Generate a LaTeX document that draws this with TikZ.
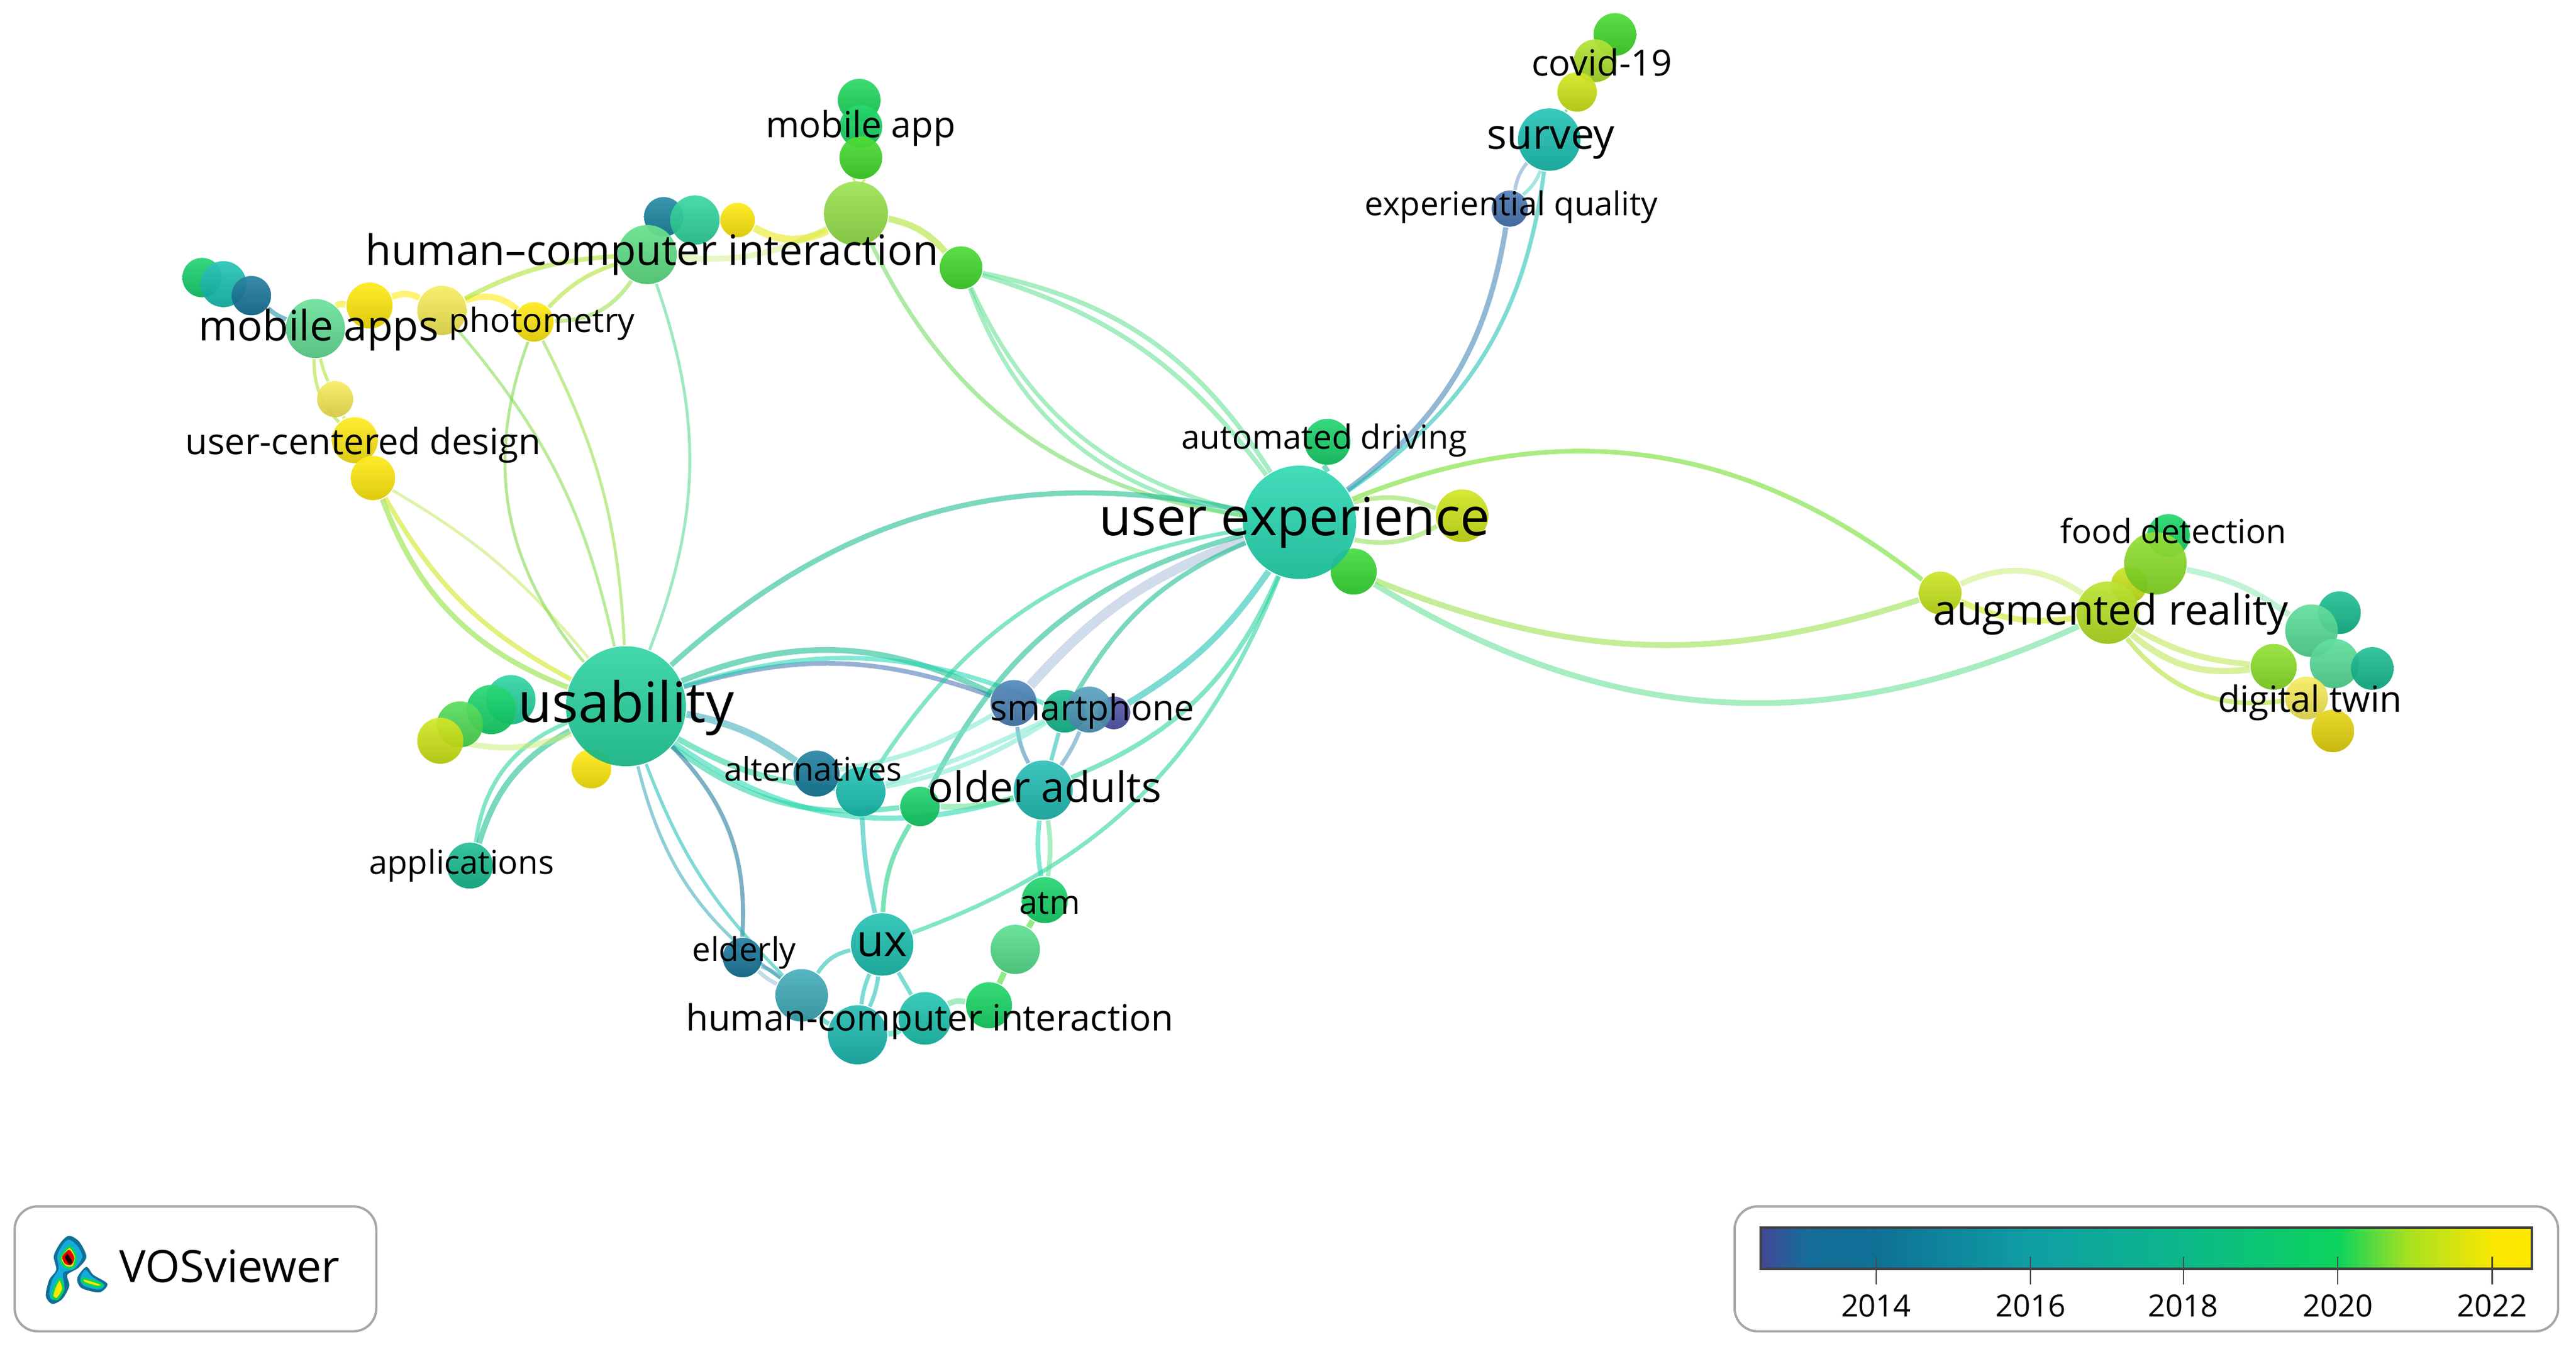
\documentclass[tikz,border=0pt]{standalone}
\usepackage{fontspec}
\setmainfont{Open Sans}
\usetikzlibrary{positioning,backgrounds}

\definecolor{cBlue}{HTML}{3F6FB0}
\definecolor{cSteel}{HTML}{4A98B8}
\definecolor{cPurple}{HTML}{4A4FA8}
\definecolor{cNavy}{HTML}{0F7096}
\definecolor{cTeal}{HTML}{10BDAF}
\definecolor{cTurq}{HTML}{1CD6AE}
\definecolor{cMint}{HTML}{1CD09A}
\definecolor{cJade}{HTML}{0CB88A}
\definecolor{cGreen}{HTML}{0CD45C}
\definecolor{cLeaf}{HTML}{38D820}
\definecolor{cSoft}{HTML}{5CDE90}
\definecolor{cLime}{HTML}{A8E020}
\definecolor{cYlime}{HTML}{CCE40C}
\definecolor{cYellow}{HTML}{FFE800}
\definecolor{cPale}{HTML}{F6EA50}

\pgfdeclarehorizontalshading{yearscale}{100bp}{
  color(0bp)=(cPurple!90!black); color(25bp)=(cPurple!90!black);
  color(28bp)=(cNavy!90!cPurple); color(32.5bp)=(cNavy); color(42.5bp)=(cNavy!40!cTeal);
  color(52.5bp)=(cJade); color(62.5bp)=(cGreen); color(67bp)=(cLime);
  color(72.5bp)=(cYellow!95!cLime); color(75bp)=(cYellow); color(100bp)=(cYellow)}

\begin{document}
\begin{tikzpicture}[
    x=0.01cm,y=-0.01cm,
    bub/.style n args={2}{circle,inner sep=0pt,minimum size=#1*0.2mm,opacity=.94,
        top color=#2!88!white,middle color=#2,bottom color=#2!86!black},
    lab/.style={font=\fontsize{#1pt}{#1pt}\selectfont,inner sep=0pt,text=black},
    lnk/.style={line width=#1pt,opacity=.55},
    lnk/.default=0.55,
    panel/.style={rectangle,draw=black!35,line width=0.4pt,rounded corners=0.14cm,
        minimum height=0.76cm}
]
    \useasboundingbox (0,0) rectangle (1568,824.3);

    % Upper left cluster
    \node[bub={12}{cGreen!80!cJade}] (m1) at (123,169) {};
    \node[bub={14}{cTeal}] (m2) at (136,173) {};
    \node[bub={12}{cNavy}] (m3) at (153,180) {};
    \node[bub={14}{cYellow}] (m4) at (225,186) {};
    \node[bub={18}{cSoft}] (mapps) at (192,200) {};
    \node[bub={15}{cPale}] (m5) at (269,189) {};
    \node[bub={12}{cYellow}] (photo) at (325,196) {};
    \node[bub={11}{cPale}] (d1) at (204,243) {};
    \node[bub={14}{cYellow!90!cPale}] (d2) at (216,268) {};
    \node[bub={13.5}{cYellow}] (d3) at (227,291) {};
    \node[bub={12}{cNavy!80!cTeal}] (h1) at (404,132) {};
    \node[bub={18}{cSoft!85!cLeaf}] (hciup) at (394,155) {};
    \node[bub={15}{cMint!85!cSoft}] (h2) at (423,134) {};
    \node[bub={10.5}{cYellow}] (h3) at (449,134) {};
    \node[bub={19.5}{cLime!70!cSoft}] (hub) at (521,130) {};
    \node[bub={13}{cGreen!85!cLeaf}] (app1) at (523,61) {};
    \node[bub={13}{cGreen}] (app2) at (524,77) {};
    \node[bub={13}{cLeaf}] (app3) at (524,96) {};
    \node[bub={13}{cLeaf}] (h4) at (585,163) {};

    % Top right cluster
    \node[bub={13}{cLeaf}] (c1) at (983,21) {};
    \node[bub={13}{cLime}] (c2) at (971,37) {};
    \node[bub={12}{cYlime}] (c3) at (960,56) {};
    \node[bub={19}{cTeal}] (survey) at (943,85) {};
    \node[bub={11}{cBlue}] (qual) at (919,127) {};

    % Main hubs
    \node[bub={14}{cGreen!85!cJade}] (auto) at (808,269) {};
    \node[bub={16}{cYlime}] (ue1) at (890,314) {};
    \node[bub={14}{cLeaf!80!cGreen}] (ue2) at (824,348) {};
    \node[bub={34.5}{cTurq}] (ue) at (791,318) {};
    \node[bub={15}{cMint}] (u1) at (311,426) {};
    \node[bub={15}{cGreen!85!cMint}] (u2) at (299,432) {};
    \node[bub={14}{cLeaf!60!cSoft}] (u3) at (280,441) {};
    \node[bub={14}{cYlime}] (u4) at (268,451) {};
    \node[bub={12}{cYellow}] (u5) at (360,468) {};
    \node[bub={36.5}{cMint}] (usab) at (381,430) {};
    \node[bub={14}{cJade}] (appl) at (286,527) {};

    % Lower middle cluster
    \node[bub={14}{cNavy!90!cTeal}] (alt) at (497,471) {};
    \node[bub={15}{cTeal}] (a2) at (524,482) {};
    \node[bub={12}{cGreen!85!cJade}] (a3) at (560,491) {};
    \node[bub={14}{cBlue!70!cSteel}] (s1) at (617,428) {};
    \node[bub={13}{cJade}] (s2) at (648,433) {};
    \node[bub={10}{cPurple}] (s4) at (678,434) {};
    \node[bub={14}{cSteel}] (s3) at (663,432) {};
    \node[bub={18}{cTeal!90!cSteel}] (older) at (635,481) {};
    \node[bub={14}{cGreen!90!cJade}] (atm) at (636,548) {};
    \node[bub={15}{cSoft!80!cGreen}] (l1) at (618,578) {};
    \node[bub={14}{cGreen}] (l2) at (602,612) {};
    \node[bub={16}{cTeal!80!cMint}] (l3) at (563,620) {};
    \node[bub={18}{cTeal!90!cNavy}] (hcilow) at (522,630) {};
    \node[bub={16}{cSteel!60!cTeal}] (l4) at (488,606) {};
    \node[bub={12}{cNavy}] (elder) at (452,583) {};
    \node[bub={19}{cTeal!90!cJade}] (ux) at (537,575) {};

    % Right cluster
    \node[bub={13}{cYlime!80!cLime}] (r1) at (1181,361) {};
    \node[bub={11}{cYlime!80!cLime}] (r2) at (1296,356) {};
    \node[bub={13}{cGreen}] (r4) at (1320,326) {};
    \node[bub={19}{cLime!70!cLeaf}] (r3) at (1312,343) {};
    \node[bub={19}{cLime!70!cYlime}] (ar) at (1283,373) {};
    \node[bub={13}{cJade}] (r5) at (1424,373) {};
    \node[bub={16}{cSoft!80!cMint}] (r6) at (1407,384) {};
    \node[bub={15}{cSoft!80!cMint}] (r7) at (1421,404) {};
    \node[bub={13}{cJade}] (r8) at (1444,407) {};
    \node[bub={14}{cLime!70!cLeaf}] (r9) at (1384,406) {};
    \node[bub={13}{cPale}] (r10) at (1404,425) {};
    \node[bub={13}{cYellow!90!black}] (r11) at (1420,445) {};

    % Links
    \begin{scope}[on background layer]
    % upper left
    \draw[lnk=0.8,cNavy!70!cTeal] (mapps) to[bend left=10] (m3);
    \draw[lnk=1.1,cYellow!85!cLime] (mapps) to[bend left=25] (m4);
    \draw[lnk=1.1,cYellow] (m4) to[bend left=25] (m5);
    \draw[lnk=1.1,cYellow] (m5) to[bend left=30] (photo);
    \draw[lnk,cLime] (mapps) to[bend right=6] (d1);
    \draw[lnk,cLime] (mapps) to[bend right=22] (d2);
    \draw[lnk,cYlime] (d1) to (d2);
    \draw[lnk=0.8,cLime] (d2) to[bend left=10] (d3);
    \draw[lnk=0.8,cLime] (m5) to[bend left=12] (hciup);
    \draw[lnk=0.7,cLime] (photo) to[bend left=14] (hciup);
    \draw[lnk=0.7,cLime!70!cSoft] (photo) to[bend right=28] (hciup);
    \draw[lnk=1,cLime!50!white] (hciup) to[bend right=16] (hub);
    \draw[lnk=1.3,cYellow!70!cLime] (h3) to[bend right=28] (hub);
    \draw[lnk=1.1,cLime] (hub) to[bend left=18] (h4);
    \draw[lnk=0.8,cLime] (hub) to[bend left=10] (app3);
    \draw[lnk=0.8,cLime] (hub) to[bend right=10] (app3);
    % usability fan
    \draw[lnk=0.9,cLime!80!cGreen] (d3) to[bend right=24] (usab);
    \draw[lnk=0.8,cYlime] (d3) to[bend right=16] (usab);
    \draw[lnk=0.5,cLime!70!white] (d3) to[bend left=10] (usab);
    \draw[lnk=0.5,cLime!70!cJade] (photo) to[bend right=30] (usab);
    \draw[lnk=0.5,cLime!80!cMint] (photo) to[bend left=12] (usab);
    \draw[lnk=0.5,cLime!70!cMint] (m5) to[bend left=14] (usab);
    \draw[lnk=0.5,cSoft!80!cJade] (hciup) to[bend left=20] (usab);
    \draw[lnk=0.7,cLime!55!cMint] (hub) to[bend right=28] (ue);
    \draw[lnk=0.7,cSoft] (h4) to[bend right=30] (ue);
    \draw[lnk=0.7,cSoft] (h4) to[bend right=26] (ue);
    \draw[lnk=0.8,cSoft] (h4) to[bend left=18] (ue);
    \draw[lnk=0.8,cSoft] (h4) to[bend left=23] (ue);
    \draw[lnk=0.9,cJade] (usab) to[bend left=27] (ue);
    % usability to lower middle
    \draw[lnk=1,cJade] (usab) to[bend left=24] (s1);
    \draw[lnk=0.8,cBlue] (usab) to[bend left=18] (s1);
    \draw[lnk=0.8,cTurq] (usab) to[bend left=20] (s2);
    \draw[lnk=1.2,cSteel!60!cTeal] (usab) to[bend left=12] (alt);
    \draw[lnk=1,cMint] (usab) to[bend right=12] (a2);
    \draw[lnk=0.9,cMint] (usab) to[bend right=22] (a3);
    \draw[lnk=0.9,cTurq] (usab) to[bend right=26] (older);
    \draw[lnk=0.7,cNavy] (usab) to[bend left=24] (elder);
    \draw[lnk=0.55,cTeal] (usab) to[bend right=12] (l4);
    \draw[lnk=0.55,cSteel!60!cTeal] (usab) to[bend right=20] (l4);
    \draw[lnk=1,cJade] (usab) to[bend right=22] (appl);
    \draw[lnk=0.7,cMint] (usab) to[bend right=30] (appl);
    \draw[lnk=1,cLime!60!white] (usab) to[bend left=16] (u4);
    % user experience fan
    \draw[lnk=1.7,cBlue!45!white] (ue) to[bend right=14] (s1);
    \draw[lnk=0.8,cJade] (ue) to[bend right=18] (s2);
    \draw[lnk=1.1,cTeal] (ue) to[bend left=12] (s4);
    \draw[lnk=0.8,cMint] (ue) to[bend left=22] (older);
    \draw[lnk=0.7,cMint] (ue) to[bend right=24] (a2);
    \draw[lnk=0.9,cJade] (ue) to[bend right=24] (a3);
    \draw[lnk=0.7,cMint] (ue) to[bend left=24] (ux);
    \draw[lnk=0.9,cJade] (ue) to[bend right=10] (auto);
    \draw[lnk=0.9,cBlue!80!cTeal] (ue) to[bend right=22] (qual);
    \draw[lnk=0.7,cTeal] (ue) to[bend right=24] (survey);
    \draw[lnk=0.6,cBlue!70!white] (qual) to[bend left=14] (survey);
    \draw[lnk=0.6,cTeal!70!white] (qual) to[bend right=14] (survey);
    \draw[lnk,cGreen] (survey) to (c3);
    \draw[lnk=0.8,cLime!60!cSoft] (ue) to[bend left=18] (ue1);
    \draw[lnk=0.8,cLime!60!cSoft] (ue) to[bend right=20] (ue1);
    \draw[lnk=0.8,cLeaf!70!cYlime] (ue) to[bend left=30] (r1);
    \draw[lnk=1,cSoft] (ue2) to[bend right=28] (ar);
    \draw[lnk=1,cLime!70!cSoft] (ue2) to[bend right=20] (r1);
    % lower middle
    \draw[lnk=0.8,cTeal] (a2) to[bend right=5] (ux);
    \draw[lnk=0.8,cGreen!60!cTeal] (a3) to[bend right=14] (ux);
    \draw[lnk=0.8,cTurq] (older) to[bend right=8] (atm);
    \draw[lnk=0.8,cSoft] (older) to[bend left=8] (atm);
    \draw[lnk=0.7,cBlue!70!cTeal] (s1) to[bend right=10] (older);
    \draw[lnk=0.7,cTeal] (s2) to (older);
    \draw[lnk=0.7,cSteel] (s3) to[bend left=6] (older);
    \draw[lnk=0.8,cTurq!60!white] (s2) to[bend left=10] (a2);
    \draw[lnk=0.8,cTurq!60!white] (s2) to[bend left=4] (a2);
    \draw[lnk=0.8,cTurq!60!white] (s1) to[bend left=10] (alt);
    \draw[lnk=1,cSoft] (older) to[bend left=8] (a3);
    \draw[lnk=0.7,cSteel] (elder) to[bend left=8] (l4);
    \draw[lnk=0.7,cSteel!60!white] (elder) to[bend right=8] (l4);
    \draw[lnk=0.7,cTeal] (l4) to[bend left=22] (ux);
    \draw[lnk=0.8,cTeal] (l4) to[bend right=14] (hcilow);
    \draw[lnk=0.7,cTeal] (ux) to[bend right=8] (hcilow);
    \draw[lnk=0.7,cTeal] (ux) to[bend left=8] (hcilow);
    \draw[lnk=0.7,cTeal] (ux) to (l3);
    \draw[lnk=1,cTurq] (hcilow) to[bend right=12] (l3);
    \draw[lnk=1,cSoft] (l3) to[bend left=20] (l2);
    \draw[lnk=1,cLeaf] (l2) to (l1);
    \draw[lnk=1,cLeaf] (l1) to (atm);
    % right
    \draw[lnk=1,cLime!60!white] (r1) to[bend left=30] (ar);
    \draw[lnk=1,cYlime] (r1) to[bend right=16] (ar);
    \draw[lnk=1,cLime!80!white] (ar) to[bend right=12] (r9);
    \draw[lnk=1.1,cLime!80!white] (ar) to[bend right=24] (r9);
    \draw[lnk=0.8,cLime] (ar) to[bend right=30] (r10);
    \draw[lnk=1,cSoft!70!white] (r3) to[bend left=12] (r6);
    \end{scope}

    % Labels
    \node[lab=9.65] (tUsab) at (381,431) {usability};
    \node[lab=9.1] (tUe) at (788,318) {user experience};
    \node[lab=7.25] (tOlder) at (636,479) {older adults};
    \node[lab=7.25] (tMapps) at (194,201) {mobile apps};
    \node[lab=7.25] (tHciup) at (397,155) {human–computer interaction};
    \node[lab=7.25] (tAr) at (1285,374) {augmented reality};
    \node[lab=7.25] (tSurvey) at (944,87) {survey};
    \node[lab=7.7] (tUx) at (537,575) {ux};
    \node[lab=6.25] (tApp) at (524,78) {mobile app};
    \node[lab=5.8] (tPhoto) at (330,197) {photometry};
    \node[lab=6.25] (tDesign) at (221,271) {user-centered design};
    \node[lab=5.65] (tAlt) at (495,468) {alternatives};
    \node[lab=6.15] (tPhone) at (665,433) {smartphone};
    \node[lab=5.7] (tAppl) at (281,527) {applications};
    \node[lab=5.7] (tElder) at (453,580) {elderly};
    \node[lab=5.7] (tAtm) at (639,550) {atm};
    \node[lab=6.25] (tHcilow) at (566,622) {human-computer interaction};
    \node[lab=5.75] (tFood) at (1323,323) {food detection};
    \node[lab=6.25] (tTwin) at (1406,428) {digital twin};
    \node[lab=5.75] (tAuto) at (806,268) {automated driving};
    \node[lab=5.7] (tQual) at (920,126) {experiential quality};
    \node[lab=6.25] (tCovid) at (975,38) {covid-19};

    % Legend
    \node[panel,minimum width=2.2cm] (logobox) at (119,772.5) {};
    \begin{scope}[shift={(14.7,743.8)},x=0.001227cm,y=-0.001227cm]
    \fill[cNavy,smooth cycle] plot coordinates {(225,70) (275,100) (310,175) (270,230) (215,265) (225,320) (190,385) (140,410) (108,370) (125,290) (160,240) (148,170) (185,100)};
    \fill[cNavy] plot[smooth cycle] coordinates {(310,225) (345,265) (415,310) (375,352) (285,330) (265,280)};
    \fill[cyan!70!cTurq] plot[smooth cycle] coordinates {(225,90) (265,120) (290,175) (250,235) (195,255) (200,320) (175,375) (140,390) (125,360) (140,290) (172,235) (165,170) (195,110)};
    \fill[cyan!70!cTurq] plot[smooth cycle] coordinates {(305,240) (340,275) (400,315) (370,338) (295,318) (280,280)};
    \filldraw[draw=cGreen,fill=cYellow,line width=0.4pt] plot[smooth cycle] coordinates {(225,125) (258,170) (245,225) (205,225) (180,180)};
    \filldraw[draw=cGreen,fill=cYellow,line width=0.4pt] plot[smooth cycle] coordinates {(178,285) (195,335) (165,385) (140,370) (155,320)};
    \filldraw[draw=cGreen,fill=cYellow,line width=0.4pt] plot[smooth cycle] coordinates {(295,282) (385,310) (370,325) (300,305)};
    \fill[red!90!black] plot[smooth cycle] coordinates {(225,140) (250,180) (235,215) (205,210) (190,175)};
    \fill[black!85!red] plot[smooth cycle] coordinates {(215,160) (240,200) (225,212) (205,180)};
    \end{scope}
    \node[lab=7.7,anchor=west] (tVos) at (72,771) {VOSviewer};

    \node[panel,minimum width=5.01cm] (scalebox) at (1306.5,772.5) {};
    \node[rectangle,shade,shading=yearscale,draw=black!75,line width=0.4pt,inner sep=0pt,
        minimum width=4.69cm,minimum height=0.25cm] (bar) at (1306.5,760) {};
    \foreach \yr/\xp in {2014/1142,2016/1236,2018/1329,2020/1423,2022/1517} {
        \coordinate (top\yr) at (\xp,765);
        \coordinate (bot\yr) at (\xp,782);
        \draw[line width=0.25pt,black!70] (top\yr) -- (bot\yr);
        \node[lab=5.3] (t\yr) at (\xp,795) {\yr};
    }
\end{tikzpicture}
\end{document}
